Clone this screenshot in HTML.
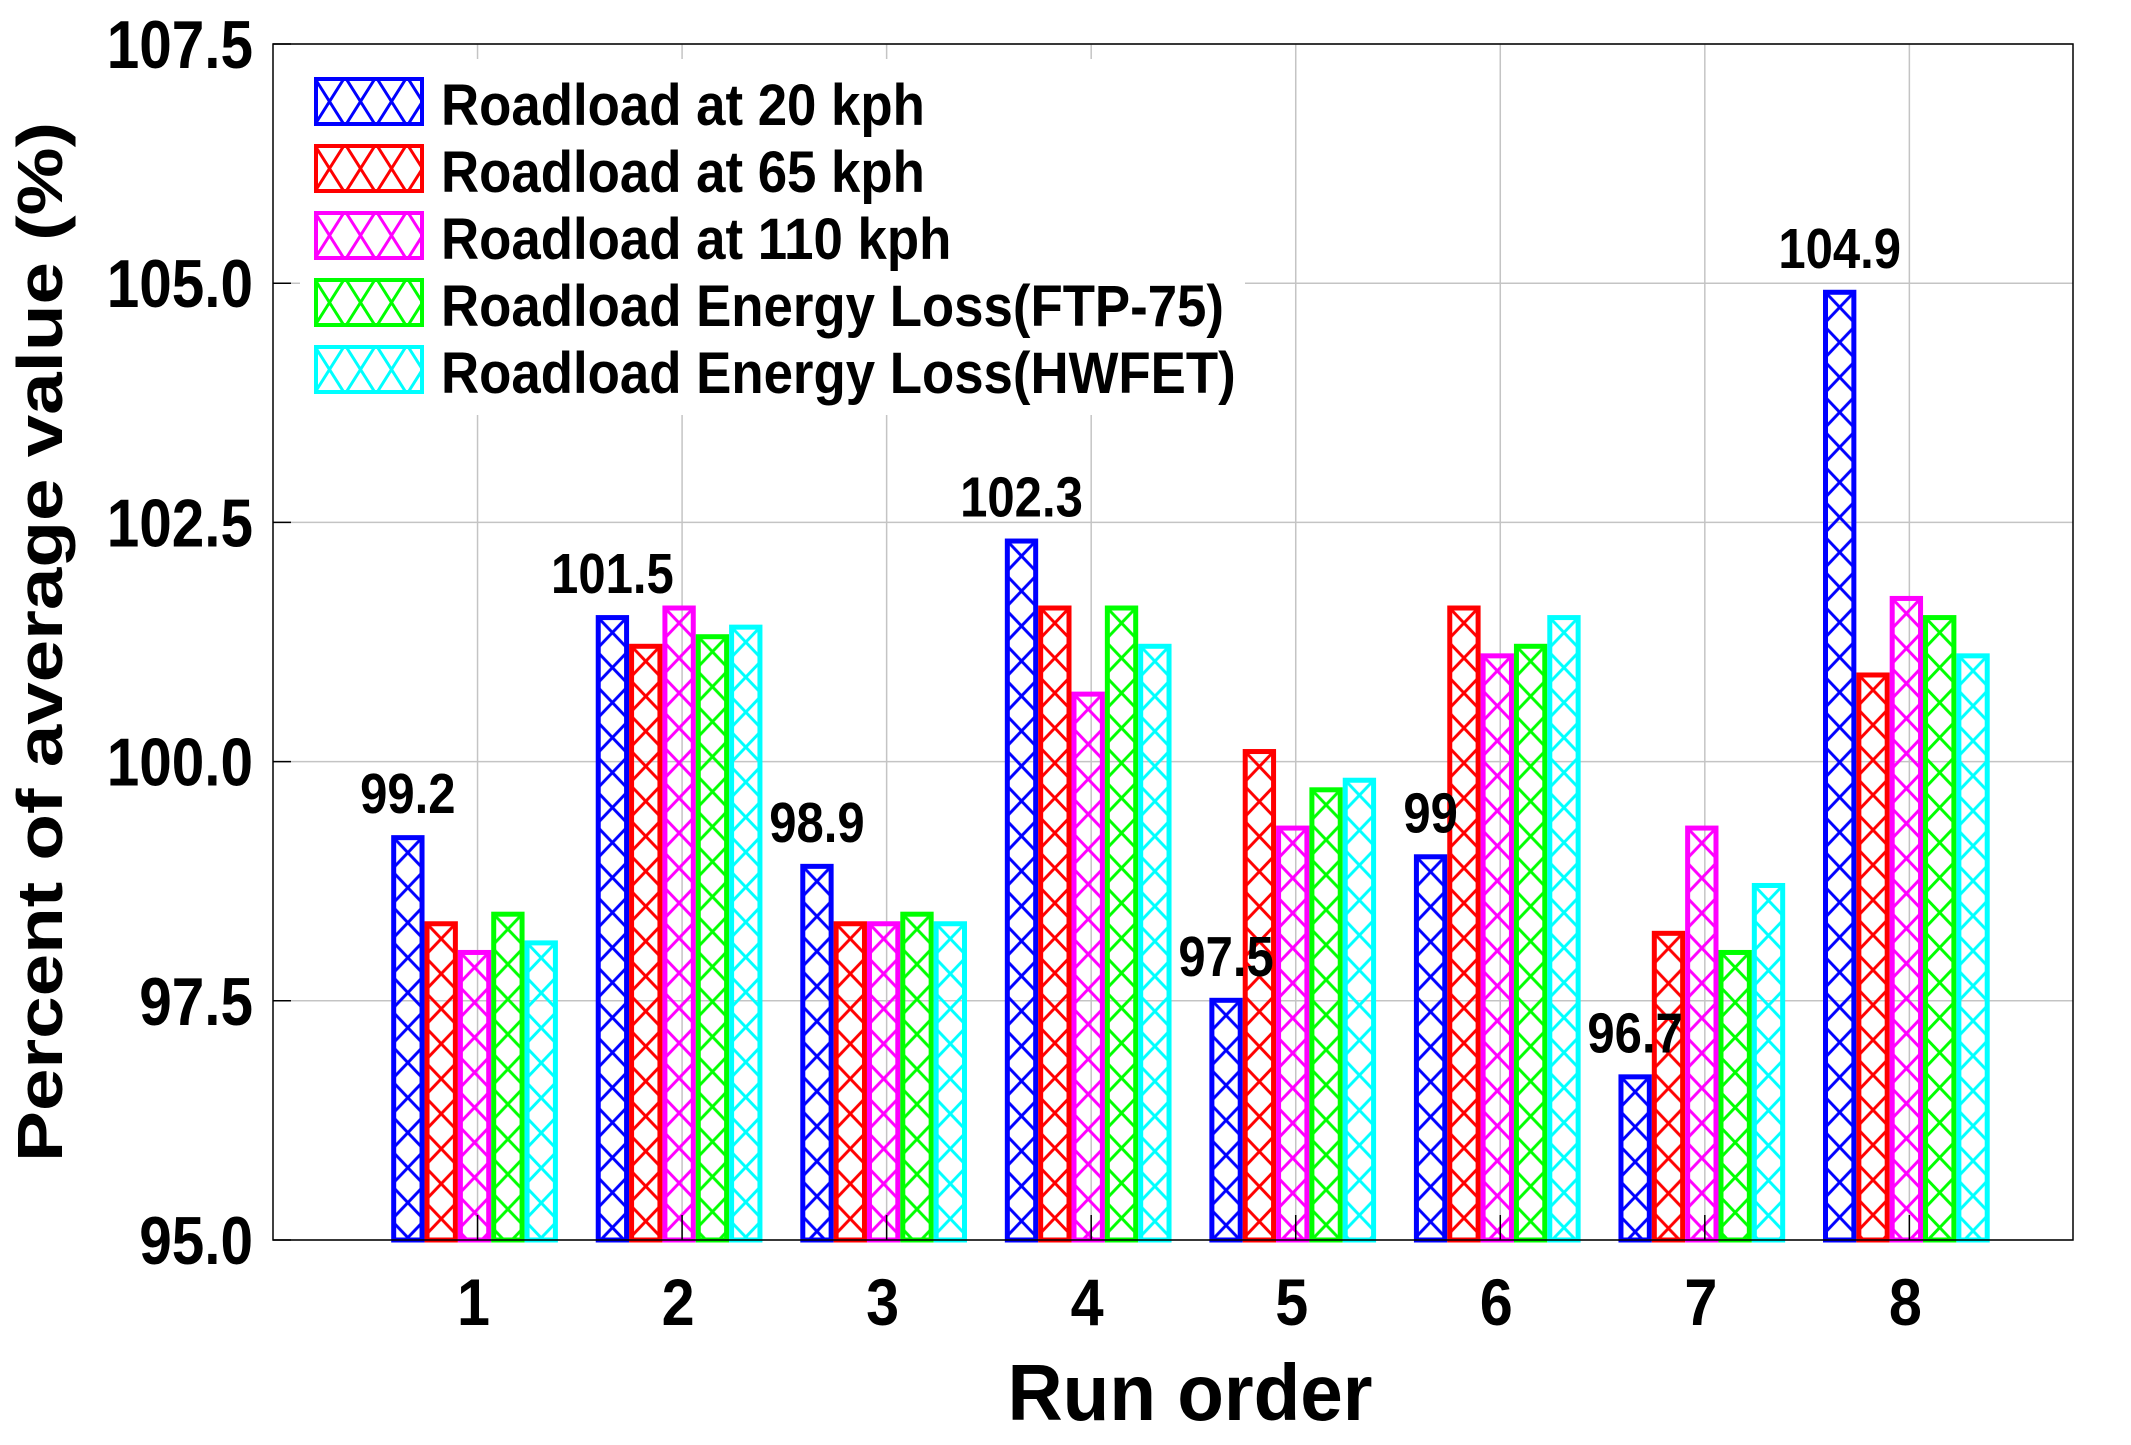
<!DOCTYPE html>
<html><head><meta charset="utf-8"><style>
html,body{margin:0;padding:0;background:#fff}
svg{display:block}
text{font-family:"Liberation Sans",sans-serif;font-weight:bold;fill:#000}
</style></head><body>
<svg id="chart" xmlns="http://www.w3.org/2000/svg" width="2131" height="1445" viewBox="0 0 2131 1445">
<defs id="defs"></defs>
<g id="grid"></g>
<rect x="300" y="59" width="945" height="356" fill="#fff"/>
<g id="bars"></g>
<g id="labels"></g>
<rect x="273" y="44" width="1800" height="1196" fill="none" stroke="#000" stroke-width="1.5"/>
<g id="axes"></g>
<g id="legend"></g>
<text transform="translate(62,642) rotate(-90)" text-anchor="middle" font-size="64" textLength="1040" lengthAdjust="spacingAndGlyphs">Percent of average value (%)</text>
<text x="1190" y="1420" text-anchor="middle" font-size="80" textLength="365" lengthAdjust="spacingAndGlyphs">Run order</text>
</svg>
<script>
const categories = ["1","2","3","4","5","6","7","8"];
const seriesNames = ["Roadload at 20 kph","Roadload at 65 kph","Roadload at 110 kph","Roadload Energy Loss(FTP-75)","Roadload Energy Loss(HWFET)"];
const s20 = [99.2,101.5,98.9,102.3,97.5,99.0,96.7,104.9];
const s65 = [98.3,101.2,98.3,101.6,100.1,101.6,98.2,100.9];
const s110 = [98.0,101.6,98.3,100.7,99.3,101.1,99.3,101.7];
const sFTP = [98.4,101.3,98.4,101.6,99.7,101.2,98.0,101.5];
const sHW = [98.1,101.4,98.3,101.2,99.8,101.5,98.7,101.1];
const valueLabels = ["99.2","101.5","98.9","102.3","97.5","99","96.7","104.9"];
const yTicks = [95.0,97.5,100.0,102.5,105.0,107.5];
const yTickLabels = ["95.0","97.5","100.0","102.5","105.0","107.5"];

const colors = ["#0000ff","#ff0000","#ff00ff","#00ff00","#00ffff"];
const series = [s20,s65,s110,sFTP,sHW];
const NS="http://www.w3.org/2000/svg";
const L=273,R=2073,T=44,B=1240, XMIN=0,XMAX=8.8,YMIN=95,YMAX=107.5;
const xs=v=>L+(v-XMIN)/(XMAX-XMIN)*(R-L);
const ys=v=>B-(v-YMIN)/(YMAX-YMIN)*(B-T);
const bw=(xs(1)-xs(0))*0.163;
function mk(tag,attrs,parent){const e=document.createElementNS(NS,tag);for(const k in attrs)e.setAttribute(k,attrs[k]);parent.appendChild(e);return e;}
function squeeze(t,f){const w=t.getComputedTextLength();if(w>0){t.setAttribute('textLength',(w*f).toFixed(1));t.setAttribute('lengthAdjust','spacingAndGlyphs');}}
const defs=document.getElementById('defs'),grid=document.getElementById('grid'),bars=document.getElementById('bars'),labels=document.getElementById('labels'),axes=document.getElementById('axes'),legend=document.getElementById('legend');
let pid=0;
function hatch(color,x,y,w,h){const id='p'+(pid++);const p=mk('pattern',{id:id,patternUnits:'userSpaceOnUse',x:x,y:y,width:w,height:h},defs);
mk('line',{x1:0,y1:0,x2:w,y2:h,stroke:color,'stroke-width':3},p);mk('line',{x1:w,y1:0,x2:0,y2:h,stroke:color,'stroke-width':3},p);
mk('line',{x1:-w,y1:0,x2:w,y2:2*h,stroke:color,'stroke-width':3},p);mk('line',{x1:2*w,y1:0,x2:0,y2:2*h,stroke:color,'stroke-width':3},p);
return 'url(#'+id+')';}
yTicks.forEach((t,i)=>{const y=ys(t);
 const g=mk('line',{x1:L,x2:R,y1:y,y2:y,stroke:'#c4c4c4','stroke-width':1.5},grid);
 
 
 const tk=mk('line',{x1:L,x2:L+18,y1:y,y2:y,stroke:'#000','stroke-width':1.5},axes);
 
 
 const tx=mk('text',{x:253,y:y+24,'text-anchor':'end','font-size':68},axes);
 tx.textContent=yTickLabels[i];
 
 
 squeeze(tx,0.86);
});
categories.forEach((c,i)=>{const x=xs(i+1);
 const g=mk('line',{x1:x,x2:x,y1:T,y2:B,stroke:'#c4c4c4','stroke-width':1.5},grid);
 
 
 const tk=mk('line',{x1:x,x2:x,y1:B,y2:B-25,stroke:'#000','stroke-width':1.5},axes);
 
 
 const tx=mk('text',{x:x-4,y:1325,'text-anchor':'middle','font-size':66},axes);
 tx.textContent=c;
 
 
 squeeze(tx,0.9);
});
categories.forEach((c,i)=>{const cx=xs(i+1)-3;
 series.forEach((s,j)=>{const x0=cx-2.5*bw+j*bw;const y0=ys(s[i])-3;const h=B-y0;
  const r=mk('rect',{x:x0+2.5,y:y0+2.5,width:bw-5,height:Math.max(0,h-2.5),fill:hatch(colors[j],x0,y0,bw,35),stroke:colors[j],'stroke-width':5},bars);
  
  
 });
 const lx=cx-2*bw;
 const t=mk('text',{x:lx,y:ys(s20[i])-25,'text-anchor':'middle','font-size':57},labels);
 t.textContent=valueLabels[i];
 
 
 squeeze(t,0.86);
});
seriesNames.forEach((n,j)=>{const y=77+j*67;
 const g=mk('g',{},legend);
 
 
 const r=mk('rect',{x:316,y:y+2,width:106,height:45,fill:hatch(colors[j],314,y,31,49),stroke:colors[j],'stroke-width':4},g);
 
 
 const t=mk('text',{x:441,y:y+48,'font-size':58},g);
 t.textContent=n;
 
 
 squeeze(t,0.91);
});
</script>
</body></html>
